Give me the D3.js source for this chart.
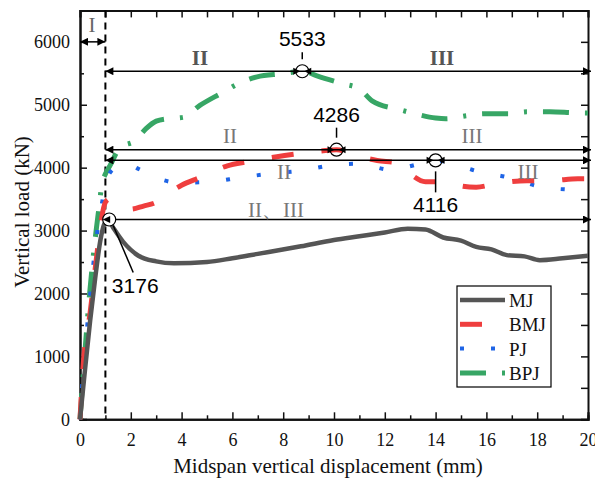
<!DOCTYPE html>
<html><head><meta charset="utf-8">
<script src="https://cdn.jsdelivr.net/npm/d3@7"></script>
<style>body{margin:0;background:#fff}</style>
</head><body>
<script>
// ---- data ----
const seriesNames = ["MJ", "BMJ", "PJ", "BPJ"];
const xTicks = [0, 2, 4, 6, 8, 10, 12, 14, 16, 18, 20];
const yTicks = [0, 1000, 2000, 3000, 4000, 5000, 6000];
const MJ = [[0,0],[0.15,600],[0.4,1570],[0.6,2250],[0.8,2840],[0.95,3100],[1.1,3176],[1.3,3050],[1.7,2820],[2.3,2600],[3.0,2510],[3.7,2480],[5,2500],[6,2560],[7,2630],[8.7,2750],[10,2850],[11,2910],[12,2970],[12.9,3030],[13.6,3016],[14.3,2890],[15,2840],[15.6,2740],[16.2,2700],[16.8,2610],[17.5,2590],[18.1,2530],[19,2560],[20,2600]];
const BMJ = [[0,0],[0.13,890],[0.4,1700],[0.65,2570],[0.85,3200],[1.0,3450],[1.15,3500],[1.5,3420],[2.0,3340],[2.5,3390],[3.0,3450],[3.5,3600],[4.0,3720],[4.7,3840],[5.8,4030],[6.6,4095],[7.75,4175],[8.6,4222],[9.5,4265],[10.1,4286],[10.8,4200],[11.7,4115],[12.5,4075],[13.0,3900],[13.6,3775],[14.4,3775],[15.0,3710],[15.6,3690],[16.4,3746],[17.6,3794],[18.5,3794],[19.6,3825],[20,3825]];
const PJ = [[0,0],[0.08,508],[0.2,984],[0.28,1460],[0.39,1937],[0.65,2889],[0.85,3400],[1.06,3825],[1.4,4000],[1.85,4063],[2.3,3980],[2.76,3889],[3.3,3800],[3.9,3760],[5.1,3775],[6.3,3841],[7.5,3905],[8.7,3952],[9.8,4032],[11.0,4063],[12.2,3968],[13.4,4063],[14.0,4116],[14.5,4080],[15.7,3937],[16.9,3841],[18.1,3698],[19.3,3650],[20,3640]];
const BPJ = [[0,0],[0.13,730],[0.39,2048],[0.65,3050],[0.78,3470],[0.85,3720],[1.0,3900],[1.18,4032],[1.57,4317],[2.17,4429],[2.6,4620],[3.0,4740],[3.46,4780],[4.06,4800],[4.72,4990],[5.59,5190],[6.22,5333],[6.97,5444],[7.95,5492],[8.78,5533],[9.33,5460],[10.35,5333],[11.0,5254],[11.5,5063],[12.6,4920],[13.2,4857],[14.0,4790],[14.4,4778],[15.2,4825],[15.9,4857],[16.9,4857],[17.6,4889],[18.5,4889],[19.5,4873],[20,4870]];
const peaks = [{label:"5533", x:8.75, y:5533}, {label:"4286", x:10.1, y:4286}, {label:"4116", x:14.0, y:4116}, {label:"3176", x:1.15, y:3176}];
const stageLabels = ["I", "II", "III", "II、III"];

// ---- layout ----
const W = 595, H = 479;
const m = {l:80, r:7, t:10, b:60};
const svg = d3.select("body").append("svg").attr("width", W).attr("height", H);
const x = d3.scaleLinear().domain([0,20]).range([80,588]);
const y = d3.scaleLinear().domain([0,6500]).range([419.3,10.4]);
const serif = "'Liberation Serif','Times New Roman',serif";
const sans = "'Liberation Sans',Arial,sans-serif";

// defs
const defs = svg.append("defs");
function marker(id, dir){
  const mk = defs.append("marker").attr("id", id).attr("viewBox","0 0 10 10")
    .attr("refX", dir>0?10:0).attr("refY",5).attr("markerWidth",10).attr("markerHeight",8)
    .attr("markerUnits","userSpaceOnUse").attr("orient","0");
  mk.append("path").attr("d", dir>0 ? "M0,0L10,5L0,10Z" : "M10,0L0,5L10,10Z").attr("fill","#000");
}
marker("ar", 1); marker("al", -1);

// axes
const gx = svg.append("g").attr("transform","translate(0,419.3)")
  .call(d3.axisBottom(x).tickValues(xTicks).tickSize(-7).tickPadding(14).tickFormat(d3.format("d")));
const gxm = svg.append("g").attr("transform","translate(0,419.3)")
  .call(d3.axisBottom(x).tickValues(d3.range(1,20,2)).tickSize(-4).tickFormat(""));
const gxt = svg.append("g").attr("transform","translate(0,10.4)")
  .call(d3.axisTop(x).tickValues(d3.range(0,21,1)).tickSize(-7).tickFormat(""));
const gy = svg.append("g").attr("transform","translate(80,0)")
  .call(d3.axisLeft(y).tickValues(yTicks).tickSize(-7).tickPadding(10).tickFormat(d3.format("d")));
const gym = svg.append("g").attr("transform","translate(80,0)")
  .call(d3.axisLeft(y).tickValues(d3.range(500,6500,1000)).tickSize(-4).tickFormat(""));
const gyr = svg.append("g").attr("transform","translate(588,0)")
  .call(d3.axisRight(y).tickValues(d3.range(0,6501,500)).tickSize(-7).tickFormat(""));
[gx,gxm,gxt,gy,gym,gyr].forEach(g=>{
  g.selectAll(".domain").attr("stroke","#111").attr("stroke-width",2);
  g.selectAll(".tick line").attr("stroke","#111").attr("stroke-width",1.5);
  g.selectAll("text").attr("font-family",serif).attr("font-size",18).attr("fill","#111");
});
gy.selectAll("text").attr("dy","0.33em");

// dashed vertical at x=1
svg.append("line").attr("x1",x(1)).attr("x2",x(1)).attr("y1",y(6500)).attr("y2",y(0))
  .attr("stroke","#000").attr("stroke-width",2).attr("stroke-dasharray","7,5");

// curves
const line = d3.line().x(d=>x(d[0])).y(d=>y(d[1])).curve(d3.curveMonotoneX);
const styles = {
  MJ:{data:MJ, color:"#555555", w:4.5, dash:null},
  BMJ:{data:BMJ, color:"#ef3e3e", w:5, dash:"22,28"},
  PJ:{data:PJ, color:"#1e64e6", w:4, dash:"4,27"},
  BPJ:{data:BPJ, color:"#37a665", w:5, dash:"26,16,3,16"}
};
["BPJ","PJ","BMJ","MJ"].forEach(k=>{
  const s = styles[k];
  svg.append("path").datum(s.data).attr("d",line).attr("fill","none")
    .attr("stroke",s.color).attr("stroke-width",s.w).attr("stroke-dasharray",s.dash);
});

// annotation arrows
function hArrow(x1,x2,yy,startM,endM){
  svg.append("line").attr("x1",x1).attr("x2",x2).attr("y1",yy).attr("y2",yy)
    .attr("stroke","#000").attr("stroke-width",1.5)
    .attr("marker-start",startM?"url(#al)":null).attr("marker-end",endM?"url(#ar)":null);
}
hArrow(x(0), x(1), y(6000), true, true);
hArrow(x(1), 591, y(5533), true, true);
hArrow(x(1), 591, y(4286), true, true);
hArrow(x(1), 591, y(4116), true, true);
hArrow(x(1.15)+2, 591, y(3176), false, true);

function peakMark(px,py){
  const cx=x(px), cy=y(py);
  svg.append("path").attr("d",`M${cx-9},${cy-3.5}L${cx-2},${cy}L${cx-9},${cy+3.5}Z M${cx+9},${cy-3.5}L${cx+2},${cy}L${cx+9},${cy+3.5}Z`).attr("fill","#000");
  svg.append("circle").attr("cx",cx).attr("cy",cy).attr("r",6.5).attr("fill","none").attr("stroke","#000").attr("stroke-width",1.2);
}
peakMark(peaks[0].x, peaks[0].y);
peakMark(peaks[1].x, peaks[1].y);
peakMark(peaks[2].x, peaks[2].y);
// 3176 marker
{
  const cx=x(peaks[3].x), cy=y(peaks[3].y);
  svg.append("circle").attr("cx",cx).attr("cy",cy).attr("r",6.5).attr("fill","#fff").attr("stroke","#000").attr("stroke-width",1.2);
  svg.append("path").attr("d",`M${cx-6.5},${cy}L${cx+1},${cy-3.5}L${cx+1},${cy+3.5}Z`).attr("fill","#000");
  svg.append("line").attr("x1",cx+4).attr("y1",cy+6).attr("x2",cx+24).attr("y2",cy+53).attr("stroke","#000").attr("stroke-width",1.5);
  svg.append("text").attr("x",cx+26).attr("y",cy+73).attr("text-anchor","middle").attr("font-family",sans).attr("font-size",21).text(peaks[3].label);
}
// labels above/below
[[0,-12,-19, -25],[1,-12,-22,-28]].forEach(([i,t1,t2,ty])=>{
  const p=peaks[i], cx=x(p.x), cy=y(p.y);
  svg.append("line").attr("x1",cx).attr("x2",cx).attr("y1",cy+t1).attr("y2",cy+t2).attr("stroke","#000").attr("stroke-width",1.5);
  svg.append("text").attr("x",cx).attr("y",cy+ty).attr("text-anchor","middle").attr("font-family",sans).attr("font-size",21).text(p.label);
});
{
  const p=peaks[2], cx=x(p.x), cy=y(p.y);
  svg.append("line").attr("x1",cx).attr("x2",cx).attr("y1",cy+11).attr("y2",cy+32).attr("stroke","#000").attr("stroke-width",1.5);
  svg.append("text").attr("x",cx).attr("y",cy+52).attr("text-anchor","middle").attr("font-family",sans).attr("font-size",21).text(p.label);
}

// stage labels
function stage(t,xx,yy,bold,col){
  svg.append("text").attr("x",xx).attr("y",yy).attr("text-anchor","middle").attr("font-family",serif)
    .attr("font-size",21).attr("font-weight",bold?"bold":"normal").attr("fill",col).text(t);
}
stage(stageLabels[0], 92, 32, false, "#666");
stage(stageLabels[1], 200, 65, true, "#555");
stage(stageLabels[2], 442, 65, true, "#555");
stage(stageLabels[1], 230, 143, false, "#777");
stage(stageLabels[2], 472, 143, false, "#777");
stage(stageLabels[1], 284, 179, false, "#777");
stage(stageLabels[2], 528, 179, false, "#777");
stage(stageLabels[3], 276, 217, false, "#777");

// axis titles
svg.append("text").attr("x",328).attr("y",473).attr("text-anchor","middle").attr("font-family",serif).attr("font-size",21).attr("fill","#111").text("Midspan vertical displacement (mm)");
svg.append("text").attr("transform","translate(29,212) rotate(-90)").attr("text-anchor","middle").attr("font-family",serif).attr("font-size",21).attr("fill","#111").text("Vertical load (kN)");

// legend
const lg = svg.append("g");
lg.append("rect").attr("x",457).attr("y",286).attr("width",94).attr("height",101).attr("fill","#fff").attr("stroke","#000").attr("stroke-width",1.2);
seriesNames.forEach((n,i)=>{
  const s=styles[n], yy=300+i*24.3;
  lg.append("line").attr("x1",460).attr("x2",505).attr("y1",yy).attr("y2",yy)
    .attr("stroke",s.color).attr("stroke-width",s.w).attr("stroke-dasharray",s.dash);
  lg.append("text").attr("x",509).attr("y",yy+7).attr("font-family",serif).attr("font-size",19).attr("fill","#111").text(n);
});
</script>
</body></html>
